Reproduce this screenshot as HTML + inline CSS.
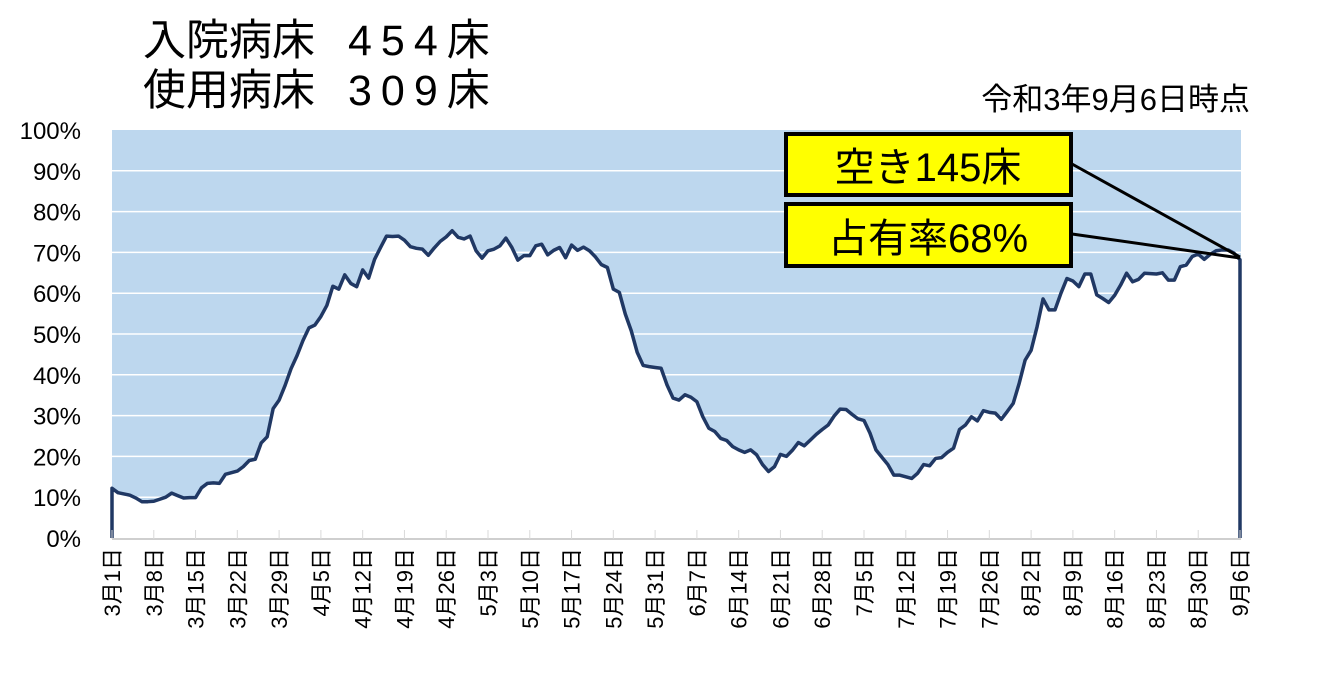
<!DOCTYPE html>
<html><head><meta charset="utf-8">
<style>
body{margin:0;background:#fff;width:1319px;height:679px;overflow:hidden;font-family:"Liberation Sans","Noto Sans CJK JP",sans-serif;}
svg text{font-family:"Liberation Sans","Noto Sans CJK JP",sans-serif;}
</style></head>
<body>
<svg id="chart" width="1319" height="679" viewBox="0 0 1319 679">
<g>
<text x="143" y="55" font-size="43" fill="#000">入院病床</text>
<text x="348" y="55" font-size="43" letter-spacing="9" fill="#000">454床</text>
<text x="143" y="105" font-size="43" fill="#000">使用病床</text>
<text x="348" y="105" font-size="43" letter-spacing="9" fill="#000">309床</text>
</g>
<text x="1250" y="110" font-size="31" text-anchor="end" fill="#000">令和3年9月6日時点</text>
<rect x="112" y="130" width="1129" height="408" fill="#bdd7ee"/>
<g id="grid"></g>
<g id="yaxis"></g>
<path id="area" fill="#fff"/>
<path id="line" fill="none" stroke="#203864" stroke-width="3.5" stroke-linejoin="round"/>
<g id="xaxis"></g>
<g>
<line x1="1072" y1="164" x2="1240" y2="257" stroke="#000" stroke-width="3"/>
<line x1="1072" y1="234" x2="1240" y2="258" stroke="#000" stroke-width="3"/>
<rect x="786" y="134" width="285" height="61" fill="#ffff00" stroke="#000" stroke-width="4"/>
<text x="928" y="181" font-size="40" text-anchor="middle" fill="#000">空き145床</text>
<rect x="786" y="204" width="285" height="62" fill="#ffff00" stroke="#000" stroke-width="4"/>
<text x="928" y="252" font-size="40" text-anchor="middle" fill="#000">占有率68%</text>
</g>
</svg>
<script>
const values=[12.2,11.1,10.8,10.5,9.8,8.9,8.9,9.0,9.5,10.0,11.0,10.4,9.8,9.9,9.9,12.3,13.4,13.5,13.4,15.6,16.0,16.4,17.5,19.0,19.3,23.3,24.8,31.7,33.8,37.4,41.5,44.7,48.4,51.5,52.2,54.3,57.0,61.7,61.0,64.5,62.4,61.6,65.7,63.7,68.3,71.2,74.0,73.9,74.0,73.0,71.4,71.0,70.8,69.3,71.1,72.7,73.8,75.3,73.7,73.3,74.0,70.4,68.6,70.4,70.8,71.6,73.5,71.2,68.1,69.2,69.2,71.6,72.0,69.4,70.5,71.2,68.7,71.8,70.5,71.3,70.4,68.9,67.0,66.3,61.0,60.2,54.9,50.8,45.5,42.3,42.0,41.8,41.6,37.5,34.3,33.8,35.1,34.5,33.4,29.7,26.9,26.1,24.4,23.9,22.4,21.6,21.0,21.6,20.4,18.0,16.3,17.5,20.5,20.0,21.5,23.4,22.6,24.0,25.4,26.6,27.7,29.9,31.6,31.5,30.3,29.2,28.8,25.7,21.6,19.8,18.0,15.4,15.4,15.0,14.6,15.9,18.0,17.7,19.5,19.7,21.0,22.0,26.6,27.7,29.7,28.7,31.2,30.8,30.6,29.1,31.0,33.0,37.9,43.6,46.0,51.8,58.6,55.9,55.9,60.0,63.6,63.0,61.6,64.7,64.7,59.6,58.7,57.7,59.5,62.0,64.9,62.8,63.4,64.9,64.8,64.7,65.0,63.2,63.2,66.5,66.9,69.0,69.6,68.3,69.5,70.4,70.6,70.6,69.8,68.2];
const yTicks=[0,10,20,30,40,50,60,70,80,90,100];
const xLabels=["3月1日","3月8日","3月15日","3月22日","3月29日","4月5日","4月12日","4月19日","4月26日","5月3日","5月10日","5月17日","5月24日","5月31日","6月7日","6月14日","6月21日","6月28日","7月5日","7月12日","7月19日","7月26日","8月2日","8月9日","8月16日","8月23日","8月30日","9月6日"];
const NS="http://www.w3.org/2000/svg";
const X0=112,X1=1240,Y0=538,Y1=130;
const n=values.length;
const xs=i=>X0+(X1-X0)*i/(n-1);
const ys=v=>Y0-(Y0-Y1)*v/100;
const grid=document.getElementById('grid'),yax=document.getElementById('yaxis'),xax=document.getElementById('xaxis');
yTicks.forEach(t=>{
  if(t>0&&t<100){const l=document.createElementNS(NS,'line');
  l.setAttribute('x1',X0);l.setAttribute('x2',1241);l.setAttribute('y1',ys(t));l.setAttribute('y2',ys(t));
  l.setAttribute('stroke','#fff');l.setAttribute('stroke-width','1.5');
  
  
  grid.appendChild(l);}
  const tx=document.createElementNS(NS,'text');
  tx.setAttribute('x',81);tx.setAttribute('y',ys(t)+9);tx.setAttribute('text-anchor','end');tx.setAttribute('font-size','24');
  tx.textContent=t+'%';
  
  
  yax.appendChild(tx);
});
let d='M'+xs(0)+','+Y0;
values.forEach((v,i)=>{d+=' L'+xs(i).toFixed(2)+','+ys(v).toFixed(2);});
document.getElementById('line').setAttribute('d',d+' L'+xs(n-1)+','+Y0);
document.getElementById('area').setAttribute('d',d+' L'+xs(n-1)+','+Y0+' Z');
const ax=document.createElementNS(NS,'line');
ax.setAttribute('x1',X0);ax.setAttribute('x2',1241);ax.setAttribute('y1',Y0+1);ax.setAttribute('y2',Y0+1);
ax.setAttribute('stroke','#bfbfbf');ax.setAttribute('stroke-width','1.5');


xax.appendChild(ax);
xLabels.forEach((lab,k)=>{
  const x=xs(k*7);
  const tk=document.createElementNS(NS,'line');
  tk.setAttribute('x1',x);tk.setAttribute('x2',x);tk.setAttribute('y1',Y0-8);tk.setAttribute('y2',Y0+1);
  tk.setAttribute('stroke','#d9d9d9');tk.setAttribute('stroke-width','1');
  
  
  xax.appendChild(tk);
  const tx=document.createElementNS(NS,'text');
  tx.setAttribute('transform','translate('+(x+8)+',548) rotate(-90)');
  tx.setAttribute('text-anchor','end');tx.setAttribute('font-size','22');
  tx.textContent=lab;
  
  
  xax.appendChild(tx);
});
</script>
</body></html>
